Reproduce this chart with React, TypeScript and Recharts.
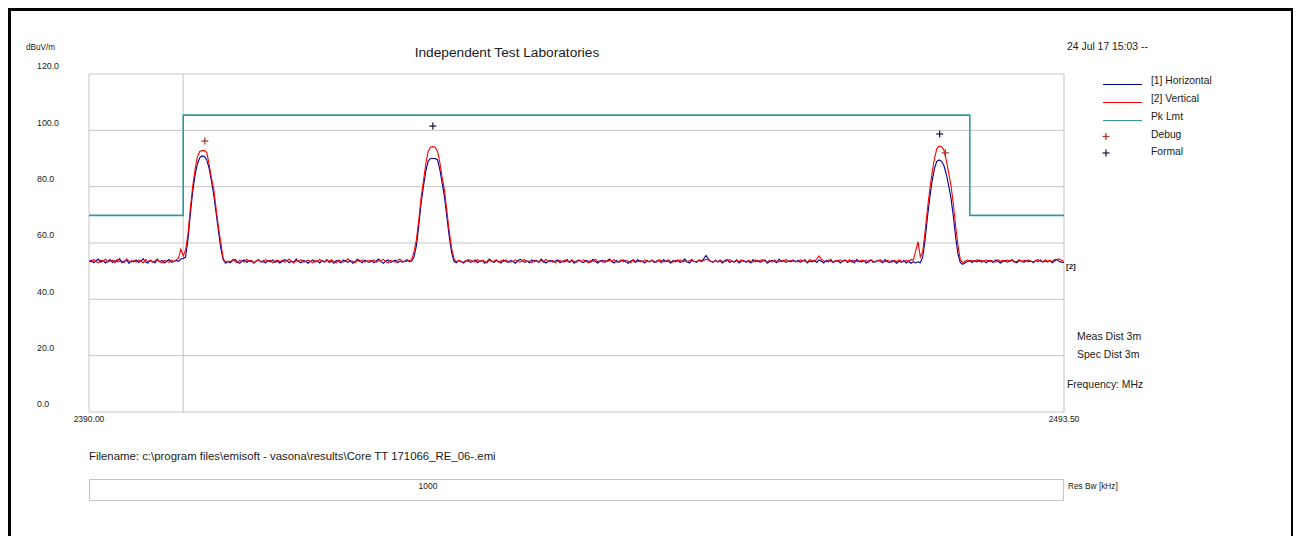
import React from "react"
import {
  CartesianGrid,
  ComposedChart,
  Line,
  ReferenceLine,
  XAxis,
  YAxis,
} from "recharts"

// frequency grid of the sweep (MHz)
const FREQ_START = 2390
const FREQ_STEP = 0.25

// [1] Horizontal, dBuV/m, one value per 0.25 MHz (each row = 5 MHz)
const HORIZONTAL = [
  53.4, 53.9, 53.0, 53.6, 54.3, 53.2, 53.8, 52.9, 53.5, 54.1, 53.1, 53.7, 53.3, 54.4, 53.0, 53.6, 53.9, 52.8, 53.7, 53.3,
  54.0, 53.1, 53.6, 54.4, 53.2, 52.9, 53.9, 53.4, 53.0, 54.2, 53.3, 53.8, 52.9, 53.5, 54.1, 53.1, 53.4, 53.8, 53.5, 54.3,
  54.5, 55.0, 61.0, 70.0, 78.0, 84.0, 88.0, 90.2, 90.9, 90.7, 89.5, 86.5, 82.0, 77.0, 70.5, 64.0, 58.0, 54.0, 52.8, 53.4,
  53.0, 53.8, 54.2, 53.3, 52.8, 53.6, 54.0, 53.1, 53.8, 53.4, 52.9, 53.6, 54.1, 53.2, 53.7, 52.9, 53.8, 53.3, 54.0, 53.1,
  53.6, 52.9, 53.4, 54.1, 53.8, 53.0, 53.6, 53.2, 54.3, 53.4, 53.0, 53.8, 53.5, 52.8, 53.4, 54.0, 53.2, 53.6, 52.9, 53.8,
  53.3, 54.1, 53.1, 53.6, 52.8, 53.8, 53.4, 53.0, 54.0, 53.5, 53.1, 53.8, 52.8, 53.4, 54.2, 53.6, 53.0, 53.9, 53.4, 53.1,
  53.8, 53.0, 53.6, 54.3, 53.4, 52.8, 53.6, 54.0, 53.1, 53.4, 53.9, 53.0, 53.6, 53.2, 53.5, 54.1, 53.4, 53.6, 55.0, 59.0,
  66.0, 74.0, 80.0, 85.5, 89.0, 90.0, 90.0, 90.0, 89.5, 86.0, 81.0, 76.0, 69.0, 62.0, 56.5, 53.5, 53.0, 53.8, 53.4, 52.9,
  53.6, 54.1, 53.1, 53.4, 54.0, 53.0, 53.6, 53.8, 52.8, 53.4, 54.3, 53.5, 53.1, 53.8, 53.3, 52.9, 54.0, 53.5, 53.1, 53.8,
  53.4, 52.8, 53.6, 54.2, 53.8, 53.1, 53.6, 53.0, 54.0, 53.4, 53.8, 53.1, 54.3, 53.5, 52.9, 53.4, 53.8, 53.2, 53.6, 54.0,
  53.0, 53.6, 53.3, 54.1, 53.1, 53.8, 52.8, 53.5, 54.0, 53.3, 53.0, 53.8, 53.5, 53.1, 54.2, 53.4, 52.9, 53.6, 53.8, 53.1,
  53.6, 54.3, 53.4, 52.9, 53.8, 53.1, 53.6, 54.0, 53.3, 52.8, 53.6, 53.8, 53.1, 54.1, 53.4, 53.6, 52.9, 53.8, 53.3, 54.0,
  53.1, 53.6, 53.8, 53.0, 54.1, 53.4, 53.6, 52.8, 53.8, 53.3, 54.0, 53.1, 53.6, 54.3, 53.3, 52.9, 53.8, 53.5, 53.1, 54.0,
  53.6, 54.4, 55.6, 54.3, 53.5, 53.1, 53.9, 53.3, 53.6, 52.9, 53.8, 54.1, 53.1, 53.6, 53.3, 54.0, 52.9, 53.5, 53.8, 53.1,
  53.6, 52.9, 54.1, 53.4, 53.8, 53.1, 53.6, 54.0, 52.8, 53.4, 53.8, 53.5, 53.0, 54.3, 53.4, 53.8, 53.1, 53.6, 53.3, 54.0,
  53.3, 53.8, 53.1, 53.6, 54.1, 52.9, 53.6, 53.3, 53.8, 53.1, 54.0, 53.5, 52.9, 53.8, 53.3, 54.1, 53.1, 53.6, 53.8, 52.9,
  53.6, 54.0, 53.1, 53.4, 53.8, 52.9, 54.1, 53.5, 53.3, 53.8, 52.8, 53.6, 54.0, 53.1, 53.4, 53.8, 53.5, 53.0, 54.1, 53.3,
  53.0, 53.8, 53.4, 52.8, 53.6, 53.1, 53.9, 52.9, 53.5, 52.8, 53.4, 52.9, 53.3, 53.0, 55.0, 61.0, 69.0, 76.0, 82.0, 86.5,
  89.0, 89.5, 89.0, 87.5, 84.5, 80.5, 76.0, 69.5, 62.0, 56.0, 53.0, 52.4, 53.0, 53.4, 53.8, 53.1, 53.7, 53.3, 54.0, 53.2,
  53.6, 53.0, 53.8, 53.4, 53.1, 54.0, 53.5, 52.9, 53.4, 53.8, 53.2, 53.6, 54.1, 53.4, 53.0, 53.8, 53.5, 53.1, 53.8, 53.4,
  53.6, 53.0, 53.8, 53.4, 54.0, 53.2, 53.6, 53.3, 53.8, 53.0, 53.6, 54.1, 53.4, 53.2, 53.1,
]

// [2] Vertical
const VERTICAL = [
  53.7, 53.2, 54.1, 53.4, 53.0, 53.9, 53.5, 54.3, 53.2, 53.6, 53.9, 53.0, 54.2, 53.4, 53.6, 53.1, 54.4, 53.5, 53.3, 53.8,
  53.2, 53.9, 53.5, 53.0, 54.1, 53.4, 53.8, 53.2, 53.6, 54.3, 53.4, 53.0, 53.8, 53.5, 53.1, 53.9, 53.4, 54.0, 54.6, 57.8,
  55.4, 57.5, 63.0, 72.0, 80.0, 86.0, 90.5, 92.5, 92.8, 92.8, 92.2, 88.0, 83.0, 79.0, 72.0, 65.5, 60.0, 54.5, 53.2, 53.6,
  53.4, 54.1, 53.5, 53.0, 53.9, 53.5, 53.2, 54.2, 53.4, 53.8, 53.0, 53.6, 54.0, 53.4, 53.2, 54.1, 53.5, 53.8, 53.0, 53.6,
  53.9, 53.4, 53.8, 53.2, 53.6, 54.3, 53.4, 53.0, 53.8, 53.5, 54.1, 53.2, 53.4, 53.9, 53.5, 53.0, 53.8, 53.4, 54.2, 53.5,
  53.2, 53.8, 53.5, 54.1, 53.4, 53.0, 53.9, 53.5, 53.2, 53.8, 54.3, 53.4, 53.6, 53.0, 53.8, 53.4, 54.0, 53.2, 53.6, 53.8,
  53.4, 54.0, 53.2, 53.6, 53.8, 54.2, 53.4, 53.0, 53.8, 53.5, 53.2, 53.9, 54.3, 53.6, 53.4, 53.5, 53.8, 54.0, 57.0, 61.0,
  68.0, 76.0, 82.0, 88.0, 92.5, 94.0, 94.2, 94.0, 92.5, 88.5, 83.0, 78.5, 71.0, 64.0, 58.0, 54.5, 53.3, 53.8, 53.5, 53.1,
  53.8, 53.4, 54.0, 53.5, 53.2, 54.1, 53.4, 53.8, 53.5, 53.0, 53.9, 53.4, 53.6, 54.1, 53.2, 53.8, 53.4, 54.0, 53.5, 53.2,
  53.5, 54.0, 53.4, 53.2, 53.8, 54.1, 53.4, 53.6, 53.0, 53.9, 53.5, 53.3, 53.8, 53.2, 54.2, 53.5, 53.3, 53.8, 53.0, 53.6,
  53.8, 53.2, 54.0, 53.5, 53.3, 54.1, 53.5, 53.2, 53.8, 53.4, 54.0, 53.5, 53.0, 53.8, 53.5, 54.2, 53.4, 53.6, 53.2, 53.8,
  53.4, 53.8, 53.5, 54.1, 53.2, 53.5, 54.0, 53.3, 53.8, 53.5, 53.0, 54.1, 53.5, 53.3, 53.8, 53.2, 54.0, 53.5, 53.3, 53.8,
  53.5, 53.2, 54.0, 53.8, 53.3, 53.5, 54.1, 53.4, 53.2, 53.8, 53.5, 54.0, 53.3, 53.6, 53.2, 53.8, 54.2, 53.4, 53.5, 53.8,
  53.4, 53.8, 54.2, 53.9, 53.5, 53.3, 53.8, 53.2, 54.0, 53.5, 53.3, 53.8, 54.1, 53.5, 53.2, 53.8, 53.4, 54.0, 53.5, 53.3,
  53.8, 53.5, 53.2, 54.0, 53.4, 53.8, 54.1, 53.5, 53.3, 53.8, 53.2, 54.0, 53.5, 53.3, 53.8, 53.5, 54.2, 53.4, 53.8, 53.5,
  53.5, 53.3, 54.0, 53.8, 53.5, 53.2, 54.1, 53.8, 53.5, 54.3, 55.4, 54.2, 53.6, 53.3, 54.0, 53.5, 53.2, 53.8, 53.5, 54.0,
  53.4, 53.8, 53.5, 54.1, 53.2, 53.8, 53.5, 53.3, 54.0, 53.5, 53.8, 53.2, 54.1, 53.5, 53.3, 53.8, 54.0, 53.5, 53.3, 53.8,
  53.5, 53.2, 53.8, 53.4, 54.0, 53.5, 53.3, 53.8, 53.5, 54.1, 54.0, 57.0, 60.5, 55.0, 57.0, 64.0, 72.0, 79.0, 85.0, 90.0,
  93.5, 94.4, 94.2, 93.0, 89.5, 85.0, 80.5, 74.0, 66.0, 59.0, 54.0, 53.0, 53.5, 54.0, 53.4, 53.8, 53.5, 54.1, 53.4, 53.8,
  53.5, 54.0, 53.4, 53.8, 53.5, 53.2, 54.1, 53.5, 53.8, 53.4, 54.0, 53.5, 53.8, 53.2, 53.5, 54.1, 53.4, 53.8, 53.5, 54.0,
  53.5, 53.3, 53.8, 54.1, 53.5, 53.3, 54.0, 53.5, 53.8, 53.4, 54.1, 54.2, 54.3, 53.9, 53.5,
]

// peak limit, restricted band edges at 2400 and 2483.5 MHz
const LIMIT_FREQ = [2390, 2400, 2400, 2483.5, 2483.5, 2493.5]
const LIMIT_LEVEL = [69.8, 69.8, 105.4, 105.4, 69.8, 69.8]

const DEBUG_FREQ = [2402.3, 2480.9]
const DEBUG_LEVEL = [96.2, 92.0]
const FORMAL_FREQ = [2426.5, 2480.3]
const FORMAL_LEVEL = [101.5, 98.7]

const Y_TICKS = [0, 20, 40, 60, 80, 100, 120]
const X_TICKS = [2390, 2493.5]

const traceData = HORIZONTAL.map((h, i) => ({
  freq: FREQ_START + i * FREQ_STEP,
  h,
  v: VERTICAL[i],
}))
const limitData = LIMIT_FREQ.map((freq, i) => ({ freq, level: LIMIT_LEVEL[i] }))
const debugData = DEBUG_FREQ.map((freq, i) => ({ freq, level: DEBUG_LEVEL[i] }))
const formalData = FORMAL_FREQ.map((freq, i) => ({ freq, level: FORMAL_LEVEL[i] }))

const BLUE = "#00008f"
const RED = "#ff0000"
const TEAL = "#35999a"
const GRID = "#c4c4c4"
const DEBUG_COLOR = "#a8402c"
const FORMAL_COLOR = "#1c2440"
const FONT = "'Liberation Sans', Arial, sans-serif"

function Plus({ cx, cy, color }: { cx?: number; cy?: number; color: string }) {
  if (cx == null || cy == null) return null
  return (
    <g>
      <line x1={cx - 3.5} y1={cy} x2={cx + 3.5} y2={cy} stroke={color} strokeWidth={1.3} />
      <line x1={cx} y1={cy - 3.5} x2={cx} y2={cy + 3.5} stroke={color} strokeWidth={1.3} />
    </g>
  )
}

function Label({
  x,
  y,
  size,
  children,
  align = "left",
  bold = false,
}: {
  x: number
  y: number
  size: number
  children: React.ReactNode
  align?: "left" | "center"
  bold?: boolean
}) {
  return (
    <div
      style={{
        position: "absolute",
        left: align === "center" ? x - 300 : x,
        width: align === "center" ? 600 : undefined,
        textAlign: align,
        top: y - size / 2,
        height: size,
        lineHeight: `${size}px`,
        fontSize: size,
        fontWeight: bold ? 700 : 400,
        whiteSpace: "nowrap",
        color: "#1a1a1a",
      }}
    >
      {children}
    </div>
  )
}

const legendRows = [
  { label: "[1] Horizontal", color: BLUE, y: 81, lineY: 84 },
  { label: "[2] Vertical", color: RED, y: 99, lineY: 102.5 },
  { label: "Pk Lmt", color: TEAL, y: 117, lineY: 120.5 },
]

export default function App() {
  return (
    <div
      style={{
        position: "absolute",
        left: 0,
        top: 0,
        width: 1298,
        height: 536,
        overflow: "hidden",
        background: "#fff",
        fontFamily: FONT,
      }}
    >
      {/* report frame */}
      <div
        style={{
          position: "absolute",
          left: 8,
          top: 8,
          width: 1280,
          height: 600,
          borderTop: "3px solid #000",
          borderLeft: "3px solid #000",
          borderRight: "2px solid #000",
        }}
      />

      <div style={{ position: "absolute", left: 0, top: 0 }}>
        <ComposedChart
          width={1298}
          height={536}
          margin={{ top: 74, right: 234, bottom: 94, left: 29 }}
        >
          <CartesianGrid stroke={GRID} strokeWidth={1} />
          <XAxis
            type="number"
            dataKey="freq"
            domain={[2390, 2493.5]}
            ticks={X_TICKS}
            allowDataOverflow
            axisLine={false}
            tickLine={false}
            height={30}
            tick={({ x, y, payload }: any) => (
              <text
                x={x}
                y={y}
                textAnchor="middle"
                dominantBaseline="middle"
                fontSize={8.5}
                fontFamily={FONT}
                fill="#1a1a1a"
              >
                {Number(payload.value).toFixed(2)}
              </text>
            )}
          />
          <YAxis
            type="number"
            domain={[0, 120]}
            ticks={Y_TICKS}
            axisLine={false}
            tickLine={false}
            width={60}
            tick={({ y, payload }: any) => (
              <text
                x={37}
                y={y - 7}
                textAnchor="start"
                dominantBaseline="middle"
                fontSize={8.8}
                fontFamily={FONT}
                fill="#1a1a1a"
              >
                {Number(payload.value).toFixed(1)}
              </text>
            )}
          />
          <ReferenceLine x={2400} stroke={GRID} strokeWidth={1} />
          <Line
            data={limitData}
            dataKey="level"
            type="linear"
            stroke={TEAL}
            strokeWidth={1.6}
            dot={false}
            isAnimationActive={false}
          />
          <Line
            data={traceData}
            dataKey="h"
            type="linear"
            stroke={BLUE}
            strokeWidth={1.1}
            dot={false}
            isAnimationActive={false}
          />
          <Line
            data={traceData}
            dataKey="v"
            type="linear"
            stroke={RED}
            strokeWidth={1.1}
            dot={false}
            isAnimationActive={false}
          />
          <Line
            data={debugData}
            dataKey="level"
            stroke="none"
            dot={(p: any) => <Plus key={p.index} cx={p.cx} cy={p.cy} color={DEBUG_COLOR} />}
            isAnimationActive={false}
          />
          <Line
            data={formalData}
            dataKey="level"
            stroke="none"
            dot={(p: any) => <Plus key={p.index} cx={p.cx} cy={p.cy} color={FORMAL_COLOR} />}
            isAnimationActive={false}
          />
        </ComposedChart>
      </div>

      <Label x={26} y={48} size={8.2}>dBuV/m</Label>
      <Label x={507} y={53} size={13.7} align="center">Independent Test Laboratories</Label>
      <Label x={1067} y={47} size={10.4}>24 Jul 17 15:03 --</Label>

      {legendRows.map((row) => (
        <React.Fragment key={row.label}>
          <div
            style={{
              position: "absolute",
              left: 1103,
              top: row.lineY - 0.5,
              width: 39,
              height: 1.3,
              background: row.color,
            }}
          />
          <Label x={1151} y={row.y} size={10.3}>{row.label}</Label>
        </React.Fragment>
      ))}
      <svg style={{ position: "absolute", left: 1100, top: 128 }} width={14} height={32}>
        <Plus cx={6} cy={8.5} color={DEBUG_COLOR} />
        <Plus cx={6} cy={25} color={FORMAL_COLOR} />
      </svg>
      <Label x={1151} y={135} size={10.3}>Debug</Label>
      <Label x={1151} y={152} size={10.3}>Formal</Label>

      <Label x={1066} y={267} size={8} bold>[2]</Label>
      <Label x={1077} y={336} size={10.5}>Meas Dist 3m</Label>
      <Label x={1077} y={354} size={10.5}>Spec Dist 3m</Label>
      <Label x={1067} y={385} size={10.4}>Frequency: MHz</Label>

      <Label x={89} y={457} size={11.4}>
        Filename: c:\program files\emisoft - vasona\results\Core TT 171066_RE_06-.emi
      </Label>
      <div
        style={{
          position: "absolute",
          left: 89,
          top: 479,
          width: 973,
          height: 20,
          border: `1px solid ${GRID}`,
        }}
      />
      <Label x={428} y={486} size={8.5} align="center">1000</Label>
      <Label x={1068} y={486} size={8.3}>Res Bw [kHz]</Label>
    </div>
  )
}
